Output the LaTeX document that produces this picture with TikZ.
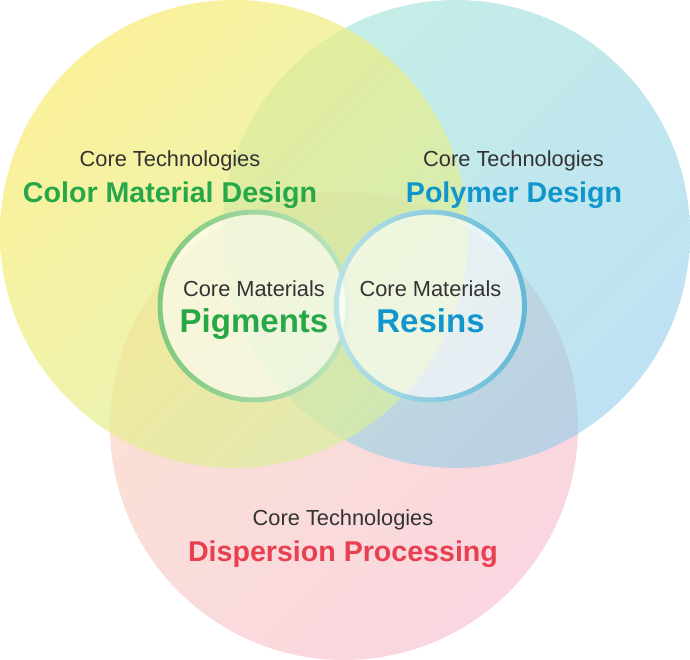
\documentclass[tikz,border=0pt]{standalone}
\usepackage{fontspec}
\setmainfont{Liberation Sans}
\definecolor{ylwA}{RGB}{248,235,112}
\definecolor{ylwB}{RGB}{218,240,160}
\definecolor{cyaA}{RGB}{148,224,210}
\definecolor{cyaB}{RGB}{137,202,235}
\definecolor{pnkA}{RGB}{248,202,177}
\definecolor{pnkB}{RGB}{244,180,199}
\definecolor{grnA}{RGB}{122,198,122}
\definecolor{grnB}{RGB}{188,228,188}
\definecolor{bluA}{RGB}{182,226,232}
\definecolor{bluB}{RGB}{92,182,214}
\definecolor{txtgray}{RGB}{51,51,51}
\definecolor{grn}{RGB}{38,168,72}
\definecolor{blu}{RGB}{16,150,204}
\definecolor{rd}{RGB}{232,64,80}
\begin{document}
\begin{tikzpicture}[x=1pt,y=-1pt,
    big/.style={top color=#1A,bottom color=#1B,shading angle=45,fill opacity=.55},
    inner/.style={fill=white,fill opacity=.62},
    ringshade/.style={even odd rule,left color=#1A,right color=#1B,fill opacity=.95},
    tech/.style={anchor=base,inner sep=0,text=txtgray,font=\fontsize{21.8}{24}\selectfont},
    techname/.style={anchor=base,inner sep=0,font=\fontsize{28.6}{32}\selectfont\bfseries},
    matname/.style={anchor=base,inner sep=0,font=\fontsize{33}{36}\selectfont\bfseries}]
\useasboundingbox (0,0) rectangle (690,660);
% big circles
\shade[big=pnk] (344,426) circle (234);
\shade[big=cya] (456,234) circle (234);
\shade[big=ylw,fill opacity=.7] (234,234) circle (234);
% core materials
\fill[inner] (254,306) circle (96.5);
\shade[ringshade=grn] (254,306) circle (96.5) (254,306) circle (91.5);
\fill[inner] (430.5,306) circle (96.5);
\shade[ringshade=blu] (430.5,306) circle (96.5) (430.5,306) circle (91.5);
% labels
\node[tech] (coreColor) at (170,166.7) {Core Technologies};
\node[techname,text=grn] (color) at (170,203) {Color Material Design};
\node[tech] (corePoly) at (513.5,166.7) {Core Technologies};
\node[techname,text=blu] (poly) at (514,203) {Polymer Design};
\node[tech] (coreDisp) at (343,525) {Core Technologies};
\node[techname,text=rd] (disp) at (343,561.7) {Dispersion Processing};
\node[tech] (matPig) at (254,296) {Core Materials};
\node[matname,text=grn] (pig) at (254,332.7) {Pigments};
\node[tech] (matRes) at (430.5,296) {Core Materials};
\node[matname,text=blu] (res) at (430.5,332.7) {Resins};
\end{tikzpicture}
\end{document}
